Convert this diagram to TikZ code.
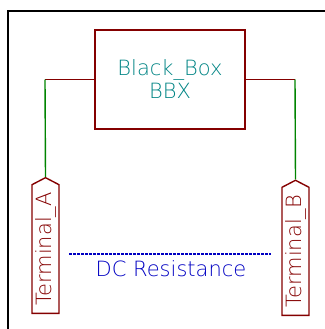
\documentclass[tikz,border=0pt]{standalone}
\usepackage{fontspec}
\setmainfont{DejaVu Sans}
\newfontfamily\kifont{DejaVu Sans ExtraLight}
\usetikzlibrary{shapes.symbols, positioning}
\definecolor{kired}{RGB}{132,0,0}
\definecolor{kiteal}{RGB}{0,132,132}
\definecolor{kigreen}{RGB}{0,132,0}
\definecolor{kiblue}{RGB}{0,0,194}
\tikzset{
  sheet/.style    = {draw=kired, line width=1.6pt, minimum width=150pt, minimum height=99pt, text=kiteal, align=center, font=\kifont\fontsize{21}{23}\selectfont},
  hlabel/.style   = {signal, signal to=east, signal pointer angle=125, draw=kired, line width=1.4pt, text=kired, rotate=90, minimum height=27pt, inner xsep=7.5pt, inner ysep=0pt, font=\kifont\fontsize{21}{23}\selectfont},
  pinline/.style  = {draw=kired, line width=1.6pt},
  wire/.style     = {draw=kigreen, line width=1.4pt},
  note/.style     = {text=kiblue, font=\kifont\fontsize{21}{23}\selectfont}
}
\begin{document}
\begin{tikzpicture}[x=1pt, y=-1pt]
  \useasboundingbox (0,0) rectangle (324,329);
  % page frame
  \draw[line width=2pt] (8,340) -- (8,11) -- (340,11);

  % hierarchical sheet
  \node[sheet] (bbx) at (170,79.5) {Black\_Box\\BBX};
  \coordinate (pinA) at (45,79.5);
  \coordinate (pinB) at (295,79.5);

  % hierarchical labels
  \node[hlabel, anchor=west] (terA) at (45.5,314) {Terminal\_A};
  \node[hlabel, anchor=west] (terB) at (295.5,316) {Terminal\_B};

  % pins and wires
  \draw[pinline] (bbx.west) -- (pinA);
  \draw[pinline] (bbx.east) -- (pinB);
  \draw[wire] (pinA) -- (terA.east);
  \draw[wire] (pinB) -- (terB.east);

  % measurement note
  \draw[kiblue, line width=1.4pt, dash pattern=on 2.5pt off 1.5pt] (69,254) -- (271,254);
  \node[note] (dcres) at (171,268.5) {DC Resistance};
\end{tikzpicture}
\end{document}
